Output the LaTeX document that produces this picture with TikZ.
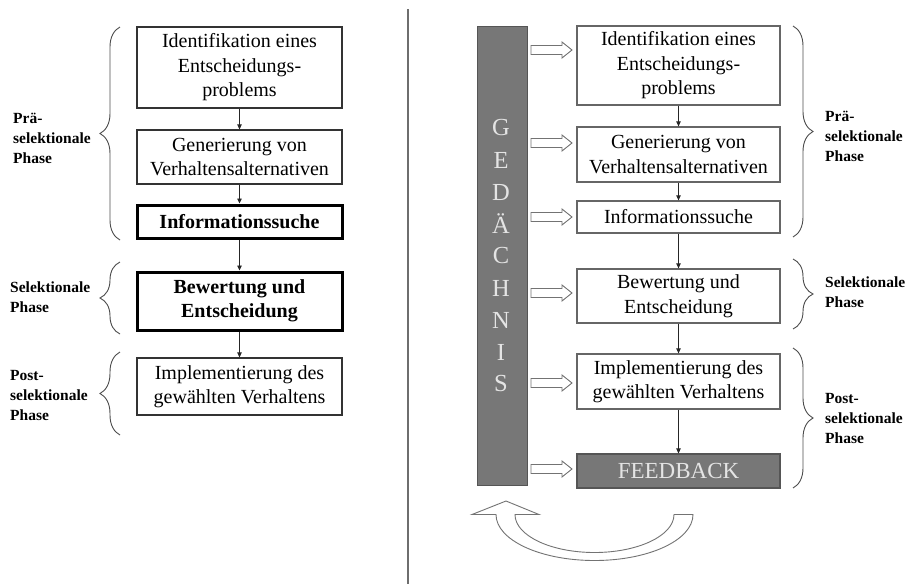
\documentclass[tikz,border=0pt]{standalone}
\usepackage{fontspec}
\setmainfont{Liberation Serif}
\usetikzlibrary{decorations.pathreplacing,arrows.meta}
\definecolor{bargray}{HTML}{777777}
\definecolor{bardark}{HTML}{555555}
\definecolor{lettergray}{HTML}{E4E4E4}
\begin{document}
\begin{tikzpicture}[x=1pt,y=-1pt,
  box/.style={draw=black!80,line width=1.2pt,fill=white,inner sep=0pt,align=center,
    font=\fontsize{20}{24.5}\selectfont,minimum width=205pt},
  boldbox/.style={box,draw=black,line width=3pt,font=\fontsize{20}{24.5}\selectfont\bfseries},
  rbox/.style={box,draw=black!60,line width=1.3pt,minimum width=203pt},
  arr/.style={-{Triangle[length=5pt,width=4.5pt]},line width=0.8pt,draw=black!85},
  lab/.style={font=\fontsize{15.5}{20}\selectfont\bfseries,align=left,anchor=west,inner sep=0pt},
  br/.style={decorate,decoration={brace,amplitude=20pt},draw=black!70,line width=0.9pt},
  hollow/.style={draw=black!55,fill=white,line width=0.9pt,line join=miter},
  letter/.style={text=lettergray,font=\fontsize{24.5}{24.5}\selectfont,inner sep=0pt}
]
\useasboundingbox (0,0) rectangle (908,584);

% divider
\draw[line width=2pt,draw=black!57] (408,9) -- (408,584);

% ---------------- left diagram ----------------
\node[box,minimum height=81pt] (L1) at (239.5,67.5) {Identifikation eines\\Entscheidungs-\\problems};
\node[box,minimum height=54pt] (L2) at (239.5,157) {Generierung von\\Verhaltensalternativen};
\node[boldbox,minimum height=33pt] (L3) at (239.5,221.5) {Informationssuche};
\node[boldbox,minimum height=58pt] (L4) at (239.5,301) {Bewertung und\\Entscheidung};
\node[box,minimum height=57pt] (L5) at (239.5,386.5) {Implementierung des\\gewählten Verhaltens};

\draw[arr] (L1) -- (L2);
\draw[arr] (L2) -- (L3);
\draw[arr] (L3) -- (L4);
\draw[arr] (L4) -- (L5);

\coordinate (lb1a) at (120,240); \coordinate (lb1b) at (120,27);
\coordinate (lb2a) at (120,334); \coordinate (lb2b) at (120,262);
\coordinate (lb3a) at (120,435); \coordinate (lb3b) at (120,352);
\draw[br] (lb1a) -- (lb1b);
\draw[br] (lb2a) -- (lb2b);
\draw[br] (lb3a) -- (lb3b);

\node[lab] (lt1) at (13,138) {Prä-\\selektionale\\Phase};
\node[lab] (lt2) at (10,297) {Selektionale\\Phase};
\node[lab] (lt3) at (10,395) {Post-\\selektionale\\Phase};

% ---------------- right diagram ----------------
\node[draw=bardark,fill=bargray,line width=1pt,minimum width=50pt,minimum height=459pt,inner sep=0pt] (G) at (502,255.5) {};
\foreach \l [count=\i from 0] in {G,E,D,Ä,C,H,N,I,S}
  \node[letter] (g\i) at (501,128+32*\i) {\l};

\node[rbox,minimum height=79pt] (R1) at (678.5,65.5) {Identifikation eines\\Entscheidungs-\\problems};
\node[rbox,minimum height=55pt] (R2) at (678.5,154.5) {Generierung von\\Verhaltensalternativen};
\node[rbox,minimum height=32pt] (R3) at (678.5,217) {Informationssuche};
\node[rbox,minimum height=54pt] (R4) at (678.5,296) {Bewertung und\\Entscheidung};
\node[rbox,minimum height=55pt] (R5) at (678.5,381.5) {Implementierung des\\gewählten Verhaltens};
\node[draw=bardark,fill=bargray,line width=1.2pt,minimum width=203pt,minimum height=34pt,inner sep=0pt,
  text=lettergray,font=\fontsize{23}{23}\selectfont] (R6) at (678.5,471) {FEEDBACK};

\draw[arr] (R1) -- (R2);
\draw[arr] (R2) -- (R3);
\draw[arr] (R3) -- (R4);
\draw[arr] (R4) -- (R5);
\draw[arr] (R5) -- (R6);

% hollow arrows from memory bar to boxes
\foreach \y in {50,143,217,293,383,469}
  \draw[hollow] (531,\y-4.5) -- (562,\y-4.5) -- (562,\y-8) -- (572,\y) -- (562,\y+8)
     -- (562,\y+4.5) -- (531,\y+4.5) -- cycle;

% right braces
\coordinate (rb1a) at (793,26);  \coordinate (rb1b) at (793,237);
\coordinate (rb2a) at (793,259); \coordinate (rb2b) at (793,329);
\coordinate (rb3a) at (793,348); \coordinate (rb3b) at (793,488);
\draw[br] (rb1a) -- (rb1b);
\draw[br] (rb2a) -- (rb2b);
\draw[br] (rb3a) -- (rb3b);

\node[lab] (rt1) at (825,136) {Prä-\\selektionale\\Phase};
\node[lab] (rt2) at (825,292) {Selektionale\\Phase};
\node[lab] (rt3) at (825,418) {Post-\\selektionale\\Phase};

% curved feedback arrow
\draw[hollow] (693,514.5)
  .. controls (693,540) and (648.9,560.5) .. (594.5,560.5)
  .. controls (540.1,560.5) and (496,540) .. (496,514.5)
  -- (472,514.5) -- (506,501) -- (539,514.5) -- (515,514.5)
  .. controls (515,535.5) and (550.6,552.5) .. (594.5,552.5)
  .. controls (638.4,552.5) and (674,535.5) .. (674,514.5)
  -- cycle;
\end{tikzpicture}
\end{document}
